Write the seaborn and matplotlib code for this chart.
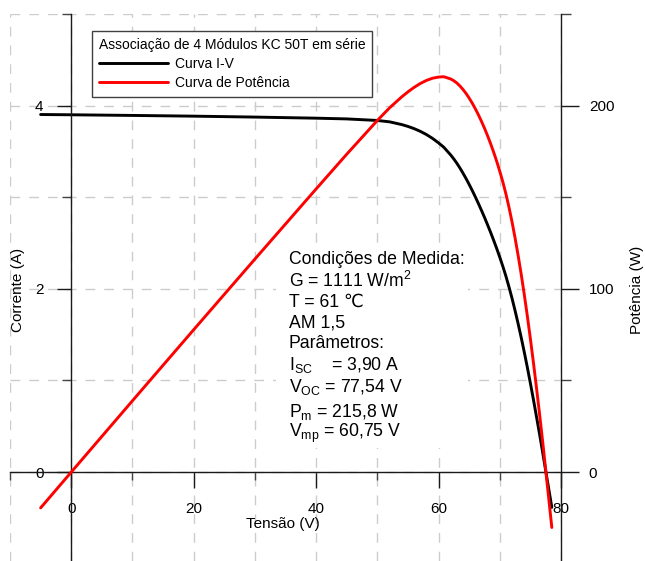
import matplotlib
matplotlib.use("Agg")
import matplotlib.pyplot as plt
import seaborn as sns
from matplotlib.patches import Rectangle
from matplotlib.ticker import FixedLocator, FixedFormatter, NullFormatter

# --- dados ---
tensao = [-5, 0, 10, 20, 30, 40, 45, 50, 52, 54, 55, 56, 57, 58, 59, 60, 60.75,
          61, 62, 62.5, 63, 63.5, 64, 64.5, 65, 65.5, 66, 66.5, 67, 67.5, 68,
          68.5, 69, 69.5, 70, 70.5, 71, 71.5, 72, 72.5, 73, 73.5, 74, 74.5, 75,
          75.5, 76, 76.5, 77, 77.54, 78.5]
corrente = [3.903, 3.900, 3.893, 3.885, 3.875, 3.863, 3.855, 3.838, 3.823,
            3.793, 3.773, 3.749, 3.720, 3.685, 3.643, 3.593, 3.552, 3.535,
            3.460, 3.417, 3.370, 3.318, 3.262, 3.203, 3.140, 3.074, 3.005,
            2.933, 2.858, 2.781, 2.700, 2.617, 2.530, 2.440, 2.345, 2.246,
            2.139, 2.022, 1.897, 1.762, 1.619, 1.469, 1.310, 1.144, 0.970,
            0.790, 0.604, 0.414, 0.218, 0.000, -0.385]
potencia = [-19.52, 0.00, 38.93, 77.70, 116.25, 154.52, 173.48, 191.90, 198.80,
            204.82, 207.52, 209.94, 212.04, 213.73, 214.94, 215.58, 215.78,
            215.64, 214.52, 213.56, 212.31, 210.69, 208.77, 206.59, 204.10,
            201.35, 198.33, 195.04, 191.49, 187.72, 183.60, 179.26, 174.57,
            169.58, 164.15, 158.34, 151.87, 144.57, 136.58, 127.75, 118.19,
            107.97, 96.94, 85.23, 72.75, 59.65, 45.90, 31.67, 16.79, 0.00,
            -30.22]

x_major = [0, 20, 40, 60, 80]
x_minor = [-10, 10, 30, 50, 70]
i_major = [0, 2, 4]
i_minor = [1, 3, 5]
p_major = [0, 100, 200]
p_minor = [50, 150, 250]

legenda_titulo = "Associação de 4 Módulos KC 50T em série"
legenda_itens = ["Curva I-V", "Curva de Potência"]

info_linhas = [
    "Condições de Medida:",
    "G = 1111 W/m$^{2}$",
    "T = 61 \u2103",
    "AM 1,5",
    "Parâmetros:",
    r"$\mathrm{I_{SC}}$    = 3,90 A",
    r"$\mathrm{V_{OC}}$ = 77,54 V",
    r"$\mathrm{P_{m}}$ = 215,8 W",
    r"$\mathrm{V_{mp}}$ = 60,75 V",
]
info_base_px = [264, 287, 307, 328, 348, 370, 392, 417, 437]

# --- estilo ---
sns.set_style("ticks")
plt.rcParams["font.family"] = ["Liberation Sans", "DejaVu Sans"]
plt.rcParams["mathtext.fontset"] = "custom"
plt.rcParams["mathtext.rm"] = "Liberation Sans"
plt.rcParams["mathtext.it"] = "Liberation Sans:italic"
plt.rcParams["mathtext.bf"] = "Liberation Sans:bold"
for k in ["text.color", "axes.labelcolor", "xtick.color", "ytick.color"]:
    plt.rcParams[k] = "black"

W, H = 645, 561
fig = plt.figure(figsize=(W / 100, H / 100), dpi=100)
ax = fig.add_axes([10 / W, 0, 551 / W, 547 / H])

i_lim = (-0.97, 5.0)
ax.set_xlim(-10, 80)
ax.set_ylim(*i_lim)

sns.lineplot(x=tensao, y=corrente, ax=ax, color="black", linewidth=2.1,
             sort=False, legend=False)
linha_iv = ax.lines[-1]

ax2 = ax.twinx()
ax2.set_ylim(i_lim[0] * 50, i_lim[1] * 50)
sns.lineplot(x=tensao, y=potencia, ax=ax2, color="#ff0000", linewidth=2.1,
             sort=False, legend=False)
linha_p = ax2.lines[-1]
ax2.set_xlim(-10, 80)

# eixos cruzando na origem
ax.spines["left"].set_position(("data", 0))
ax.spines["bottom"].set_position(("data", 0))
ax.spines["top"].set_visible(False)
ax.spines["right"].set_visible(False)
for s in ["left", "top", "bottom"]:
    ax2.spines[s].set_visible(False)
for sp in [ax.spines["left"], ax.spines["bottom"], ax2.spines["right"]]:
    sp.set_color("#1a1a1a")
    sp.set_linewidth(1.0)

ax.xaxis.set_major_locator(FixedLocator(x_major))
ax.xaxis.set_minor_locator(FixedLocator(x_minor))
ax.xaxis.set_major_formatter(FixedFormatter([str(v) for v in x_major]))
ax.xaxis.set_minor_formatter(NullFormatter())
ax.yaxis.set_major_locator(FixedLocator(i_major))
ax.yaxis.set_minor_locator(FixedLocator(i_minor))
ax.yaxis.set_minor_formatter(NullFormatter())
ax2.yaxis.set_major_locator(FixedLocator(p_major))
ax2.yaxis.set_minor_locator(FixedLocator(p_minor))
ax2.yaxis.set_minor_formatter(NullFormatter())

ax.tick_params(axis="x", which="major", direction="out", length=11.5, width=1,
               pad=10, labelsize=11, bottom=True, color="#1a1a1a")
ax.tick_params(axis="x", which="minor", direction="out", length=6, width=1,
               bottom=True, color="#444444")
ax.tick_params(axis="y", which="major", direction="out", length=10, width=1,
               pad=10, labelsize=11, left=True, color="#1a1a1a")
ax.tick_params(axis="y", which="minor", direction="out", length=6.5, width=1,
               left=True, color="#444444")
ax2.tick_params(axis="y", which="major", direction="out", length=13, width=1,
                pad=7, labelsize=11, right=True, color="#1a1a1a")
ax2.tick_params(axis="y", which="minor", direction="out", length=7, width=1,
                right=True, color="#444444")

ax.grid(True, which="both", color="#cccccc", linestyle=(0, (7, 6.5)),
        linewidth=1.0)
ax2.grid(False)
ax.set_xlabel("")
ax.set_ylabel("")
ax2.set_ylabel("")

# fundo branco do bloco de texto (esconde a grade)
ax.add_patch(Rectangle((276 / W, 1 - 448 / H), 192 / W, 203 / H,
                       transform=fig.transFigure, facecolor="white",
                       edgecolor="none", zorder=1))

# rótulos dos eixos
fig.text(18 / W, 1 - 290 / H, "Corrente (A)", rotation=90, ha="center",
         va="center", fontsize=11)
fig.text(283 / W, 1 - 524 / H, "Tensão (V)", ha="center", va="center",
         fontsize=11)
fig.text(637 / W, 1 - 290 / H, "Potência (W)", rotation=90, ha="center",
         va="center", fontsize=11)

# bloco de condições
for txt, yb in zip(info_linhas, info_base_px):
    fig.text(289 / W, 1 - yb / H, txt, ha="left", va="baseline", fontsize=12.7)

leg = ax2.legend(handles=[linha_iv, linha_p], labels=legenda_itens,
                 title=legenda_titulo, loc="upper left",
                 bbox_to_anchor=(92 / W, 1 - 31 / H),
                 bbox_transform=fig.transFigure, borderaxespad=0,
                 frameon=True, fancybox=False, edgecolor="#404040",
                 framealpha=1, fontsize=10, title_fontsize=10,
                 handlelength=5.0, handletextpad=0.5, labelspacing=0.38,
                 borderpad=0.48, alignment="left")
leg.get_frame().set_linewidth(1.0)

fig.savefig("out.png", dpi=100)
